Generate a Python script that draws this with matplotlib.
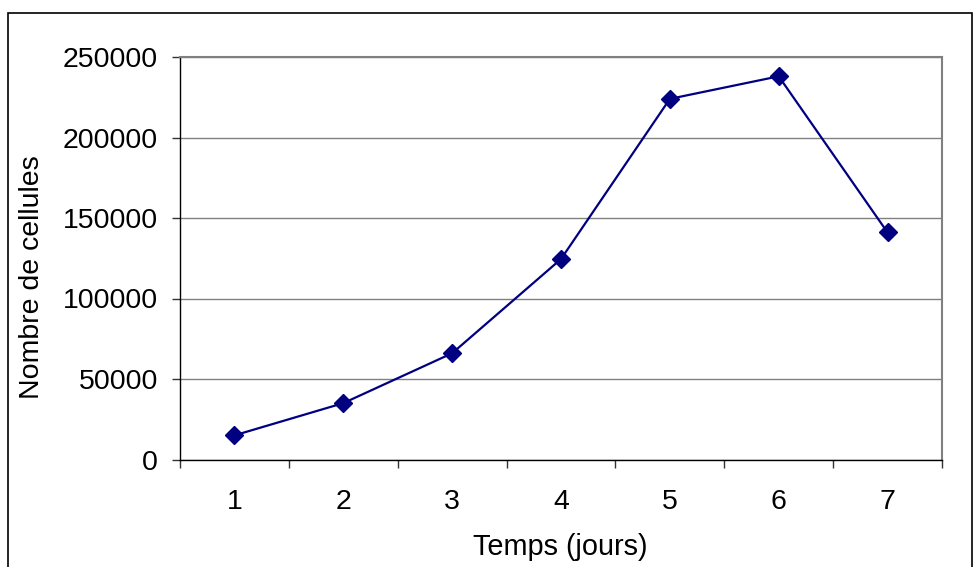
import matplotlib.pyplot as plt
from matplotlib.patches import Rectangle
import numpy as np

plt.rcParams['font.family'] = ['Liberation Sans', 'DejaVu Sans']

jours = [1, 2, 3, 4, 5, 6, 7]
cellules = [15000, 35000, 66000, 124500, 224000, 238000, 141000]
y_ticks = [0, 50000, 100000, 150000, 200000, 250000]

fs = 20.5

fig = plt.figure(figsize=(9.74, 5.67), dpi=100)
ax = fig.add_axes([180/974, 1 - 459.5/567, (942 - 180)/974, (459.5 - 57)/567])

# outer chart border (cut by the image edge on the right and bottom)
fig.patches.append(Rectangle((8/974, -0.05), (972 - 8)/974, 1.05 - 13/567,
                             transform=fig.transFigure, fill=False,
                             edgecolor='black', linewidth=1.2))

ax.plot(jours, cellules, color='#000080', linewidth=1.6, marker='D',
        markersize=9, markerfacecolor='#000080', markeredgecolor='#000080', zorder=3)

ax.set_xlim(0.5, 7.5)
ax.set_ylim(0, 250000)
ax.set_yticks(y_ticks)
ax.set_yticklabels([str(v) for v in y_ticks], fontsize=fs)
ax.yaxis.grid(True, color='#808080', linewidth=1)
ax.set_axisbelow(True)

# category axis: ticks between categories, labels at the centres
ax.set_xticks(np.arange(0.5, 8.0, 1.0))
ax.set_xticklabels([])
ax.set_xticks(jours, minor=True)
ax.set_xticklabels([str(j) for j in jours], minor=True, fontsize=fs)
ax.tick_params(axis='x', which='major', direction='out', length=6, width=1, color='#333333')
ax.tick_params(axis='x', which='minor', length=0, pad=21)
ax.tick_params(axis='y', direction='out', length=6, width=1, pad=10, color='#333333')

for side in ['top', 'right']:
    ax.spines[side].set_color('#808080')
    ax.spines[side].set_linewidth(1.5)
for side in ['left', 'bottom']:
    ax.spines[side].set_color('black')
    ax.spines[side].set_linewidth(1)

# axis titles
fig.text(560/974, 1 - 547/567, 'Temps (jours)', fontsize=20.8, ha='center', va='center')
fig.text(32/974, 1 - 277/567, 'Nombre de cellules', fontsize=fs, rotation=90,
         ha='center', va='center')

fig.savefig('out.png', dpi=100)
